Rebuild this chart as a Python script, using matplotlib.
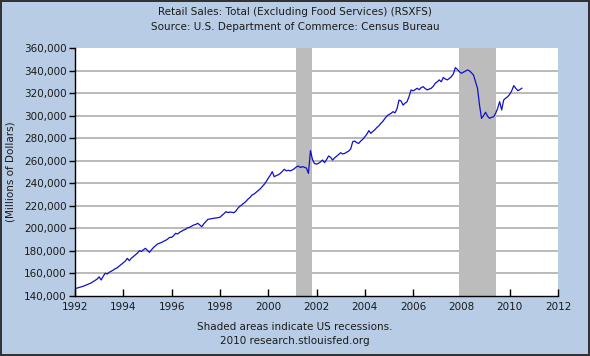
import matplotlib
matplotlib.use("Agg")
import matplotlib.pyplot as plt
import numpy as np

# monthly retail sales, thousands of millions, Jan 1992 .. Jul 2010
y1992 = [146.5, 147.0, 147.4, 148.0, 148.6, 149.3, 150.0, 150.8, 151.6, 152.7, 153.8, 155.0]
y1993 = [157.0, 154.2, 157.5, 160.1, 159.5, 161.0, 162.0, 163.0, 164.2, 165.0, 166.6, 168.0]
y1994 = [169.5, 171.0, 173.4, 171.3, 173.5, 175.0, 176.5, 178.0, 180.2, 179.5, 181.0, 182.3]
y1995 = [180.5, 178.7, 181.0, 183.0, 184.5, 186.1, 186.8, 187.5, 188.5, 189.3, 190.5, 192.0]
y1996 = [192.0, 193.5, 195.6, 195.0, 196.5, 197.5, 198.5, 199.2, 200.6, 201.0, 202.0, 203.0]
y1997 = [203.5, 204.5, 203.0, 201.5, 204.0, 206.0, 208.0, 208.3, 208.6, 209.0, 209.2, 209.5]
y1998 = [209.8, 211.5, 213.0, 214.8, 214.0, 214.5, 214.2, 213.9, 215.5, 218.0, 219.8, 221.0]
y1999 = [222.5, 224.0, 226.0, 227.5, 229.6, 230.5, 232.0, 233.5, 235.0, 237.0, 239.0, 241.5]
y2000 = [244.4, 247.0, 250.3, 245.8, 246.8, 247.5, 248.8, 250.5, 252.4, 251.0, 251.5, 251.0]
y2001 = [251.8, 253.0, 254.5, 255.3, 254.0, 254.8, 254.1, 253.5, 248.8, 269.0, 261.0, 257.5]
y2002 = [257.0, 257.7, 259.0, 260.6, 258.3, 261.0, 264.2, 263.0, 260.6, 262.5, 264.0, 265.5]
y2003 = [267.1, 266.0, 266.5, 267.5, 268.6, 270.5, 276.9, 277.5, 276.0, 275.4, 277.5, 279.0]
y2004 = [281.3, 283.5, 286.7, 284.3, 286.0, 287.5, 289.5, 291.0, 293.2, 295.0, 297.5, 299.7]
y2005 = [301.0, 302.0, 303.5, 302.5, 306.0, 313.8, 313.0, 309.4, 311.0, 312.4, 317.0, 322.8]
y2006 = [322.0, 323.0, 324.3, 323.0, 324.8, 325.7, 324.0, 322.8, 323.5, 324.3, 326.0, 328.7]
y2007 = [330.0, 331.7, 330.0, 333.8, 332.5, 331.7, 333.0, 334.6, 337.0, 342.6, 341.0, 339.0]
y2008 = [337.6, 338.5, 339.5, 340.5, 339.8, 338.0, 336.0, 330.0, 324.3, 309.4, 297.6, 300.0]
y2009 = [303.0, 299.5, 297.6, 298.5, 299.0, 302.0, 306.4, 312.4, 305.0, 313.8, 315.5, 316.8]
y2010 = [318.9, 322.0, 326.6, 324.3, 322.2, 323.0, 324.3]

sales = np.array(y1992 + y1993 + y1994 + y1995 + y1996 + y1997 + y1998 + y1999 + y2000
                 + y2001 + y2002 + y2003 + y2004 + y2005 + y2006 + y2007 + y2008 + y2009
                 + y2010) * 1000
dates = 1992 + np.arange(len(sales)) / 12.0

recessions = [(2001 + 2 / 12, 2001 + 10 / 12), (2007 + 11 / 12, 2009 + 5 / 12)]
years = list(range(1992, 2013, 2))
yticks = list(range(140000, 360001, 20000))

bg = "#B8CDE5"
txt = "#1a1a1a"

fig = plt.figure(figsize=(5.9, 3.56), dpi=100, facecolor=bg)
fig.patch.set_edgecolor("#333333")
fig.patch.set_linewidth(1.5)

ax = fig.add_axes([75 / 590, 60 / 356, 483 / 590, 248 / 356])
ax.set_facecolor("white")

for yv in yticks[1:-1]:
    ax.axhline(yv, color="#b4b4b4", lw=1.3, zorder=1)
for a, b in recessions:
    ax.axvspan(a, b, color="#bcbcbc", lw=0, zorder=2)

ax.plot(dates, sales, color="#1010c8", lw=0.9, zorder=3)

ax.set_xlim(1992, 2012)
ax.set_ylim(140000, 360000)
ax.set_xticks(years)
ax.set_yticks(yticks)
ax.set_yticklabels(["{:,}".format(v) for v in yticks])

for s in ["top", "right"]:
    ax.spines[s].set_visible(False)
for s in ["left", "bottom"]:
    ax.spines[s].set_color("black")
    ax.spines[s].set_linewidth(1.0)
    ax.spines[s].set_zorder(4)

ax.tick_params(axis="x", direction="in", length=5, width=1, labelsize=7.5,
               labelcolor=txt, pad=4)
ax.tick_params(axis="y", direction="out", length=4, width=1, labelsize=7.5,
               labelcolor=txt, pad=2)

ax.set_ylabel("(Millions of Dollars)", fontsize=7.5, color=txt, labelpad=6)

fig.text(0.5, 1 - 12 / 356, "Retail Sales: Total (Excluding Food Services) (RSXFS)",
         ha="center", va="center", fontsize=7.5, color=txt)
fig.text(0.5, 1 - 27 / 356, "Source: U.S. Department of Commerce: Census Bureau",
         ha="center", va="center", fontsize=7.5, color=txt)
fig.text(0.5, 1 - 327 / 356, "Shaded areas indicate US recessions.",
         ha="center", va="center", fontsize=7.5, color=txt)
fig.text(0.5, 1 - 341 / 356, "2010 research.stlouisfed.org",
         ha="center", va="center", fontsize=7.5, color=txt)

fig.savefig("out.png", dpi=100, facecolor=bg, edgecolor="#333333")
